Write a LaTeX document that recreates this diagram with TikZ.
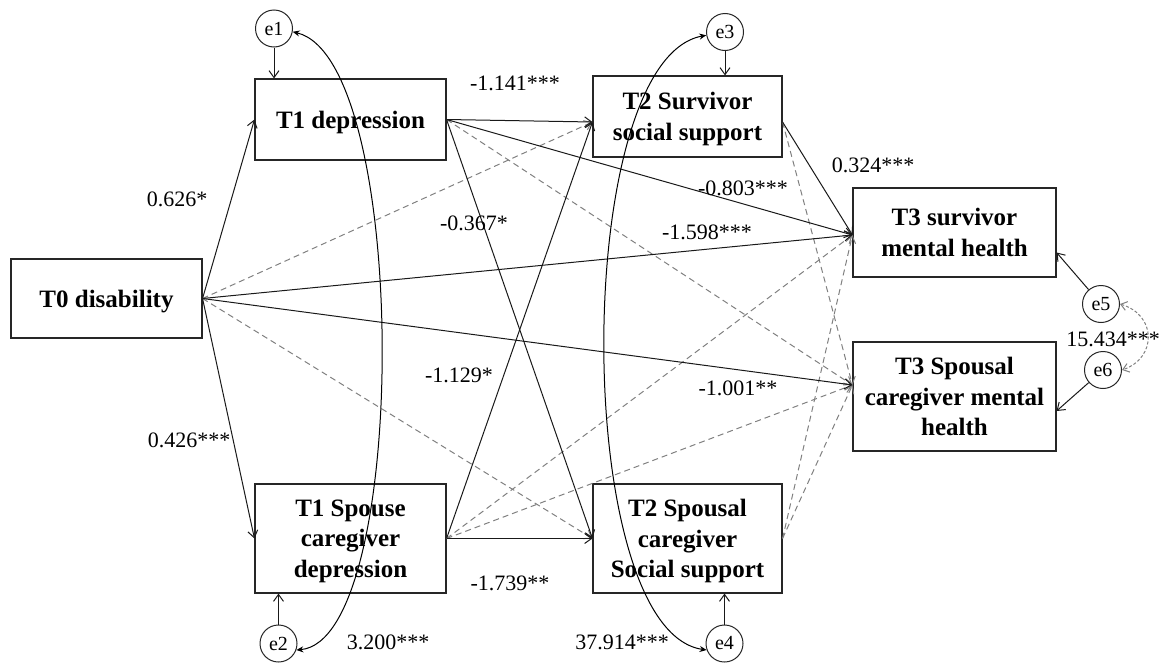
\documentclass[tikz,border=0pt]{standalone}
\usepackage{fontspec}
\setmainfont{Liberation Serif}
\usetikzlibrary{arrows.meta}
\begin{document}
\begin{tikzpicture}[x=1pt,y=-1pt,
  box/.style={draw=black!85,line width=1.1pt,inner sep=0pt,align=center,
    font=\fontsize{25}{30.5}\selectfont\bfseries,text depth=0pt},
  err/.style={circle,draw=black!85,fill=white,line width=1pt,inner sep=0pt,
    minimum size=37pt,font=\fontsize{20}{22}\selectfont},
  lab/.style={inner sep=0pt,font=\fontsize{22}{24}\selectfont},
  sig/.style={draw=black!90,line width=1pt,-{Straight Barb[length=7pt,width=10pt]}},
  nsig/.style={draw=black!50,line width=1pt,dash pattern=on 6pt off 4pt,
    -{Straight Barb[length=7pt,width=10pt]}},
  cov/.style={draw=black,line width=1pt,
    {Stealth[length=7pt,width=6pt]}-{Stealth[length=7pt,width=6pt]}},
  ncov/.style={draw=black!50,line width=1pt,dash pattern=on 3pt off 2pt,
    {Straight Barb[length=6pt,width=9pt]}-{Straight Barb[length=6pt,width=9pt]}}]
\useasboundingbox (0,0) rectangle (1159,664);

% boxes
\node[box,minimum width=191pt,minimum height=79pt]  (t0)  at (106.5,298.5) {T0 disability};
\node[box,minimum width=191pt,minimum height=81pt]  (t1a) at (350.5,119.5) {T1 depression};
\node[box,minimum width=191pt,minimum height=109pt] (t1b) at (350.5,538.5) {T1 Spouse\\caregiver\\depression};
\node[box,minimum width=189pt,minimum height=81pt]  (t2a) at (687.5,116.5) {T2 Survivor\\social support};
\node[box,minimum width=189pt,minimum height=109pt] (t2b) at (687.5,538.5) {T2 Spousal\\caregiver\\Social support};
\node[box,minimum width=203pt,minimum height=89pt]  (t3a) at (954.5,232.5) {T3 survivor\\mental health};
\node[box,minimum width=203pt,minimum height=109pt] (t3b) at (954.5,396.5) {T3 Spousal\\caregiver mental\\health};

% error terms
\node[err] (e1) at (274,28.5) {e1};
\node[err] (e2) at (278.5,643.5) {e2};
\node[err] (e3) at (725,32) {e3};
\node[err] (e4) at (724.5,643.5) {e4};
\node[err] (e5) at (1101,304) {e5};
\node[err] (e6) at (1103,370) {e6};

% anchor points
\coordinate (t2ain)  at ([yshift=-5.5pt]t2a.west);
\coordinate (t2aout) at ([yshift=-5.5pt]t2a.east);
\coordinate (t3ain)  at ([yshift=-2.5pt]t3a.west);
\coordinate (t3bin)  at ([yshift=11.5pt]t3b.west);

% non-significant paths
\draw[nsig] (t0.east) -- (t2ain);
\draw[nsig] (t0.east) -- (t2b.west);
\draw[nsig] (t1a.east) -- (t3bin);
\draw[nsig] (t1b.east) -- (t3ain);
\draw[nsig] (t1b.east) -- (t3bin);
\draw[nsig] (t2aout) -- (t3bin);
\draw[nsig] (t2b.east) -- (t3ain);
\draw[nsig] (t2b.east) -- (t3bin);

% significant paths
\draw[sig] (t0.east) -- (t1a.west);
\draw[sig] (t0.east) -- (t1b.west);
\draw[sig] (t0.east) -- (t3ain);
\draw[sig] (t0.east) -- (t3bin);
\draw[sig] (t1a.east) -- (t2ain);
\draw[sig] (t1a.east) -- (t3ain);
\draw[sig] (t1a.east) -- (t2b.west);
\draw[sig] (t1b.east) -- (t2ain);
\draw[sig] (t1b.east) -- (t2b.west);
\draw[sig] (t2aout) -- (t3ain);

% error arrows
\draw[sig] (e1.south) -- (e1.south |- t1a.north);
\draw[sig] (e2.north) -- (e2.north |- t1b.south);
\draw[sig] (e3.south) -- (e3.south |- t2a.north);
\draw[sig] (e4.north) -- (e4.north |- t2b.south);
\draw[sig] (e5) -- ([yshift=-20pt]t3a.east);
\draw[sig] (e6) -- ([yshift=-14.5pt]t3b.east);

% covariances
\draw[cov] (e1.-10) .. controls (410,60) and (410,640) .. (e2.-20);
\draw[cov] (e3.190) .. controls (571,60) and (571,630) .. (e4.200);
\draw[ncov] (e5.east) .. controls (1157,315) and (1157,358) .. (e6.east);

% labels
\node[lab] (l1)  at (177,199) {0.626*};
\node[lab] (l2)  at (189,440) {0.426***};
\node[lab] (l3)  at (515,83)  {-1.141***};
\node[lab] (l4)  at (743,188) {-0.803***};
\node[lab] (l5)  at (873,165) {0.324***};
\node[lab] (l6)  at (474,223) {-0.367*};
\node[lab] (l7)  at (707,232) {-1.598***};
\node[lab] (l8)  at (459,375) {-1.129*};
\node[lab] (l9)  at (738,388) {-1.001**};
\node[lab] (l10) at (510,583) {-1.739**};
\node[lab] (l11) at (388,642) {3.200***};
\node[lab] (l12) at (622,642) {37.914***};
\node[lab] (l13) at (1113,339) {15.434***};
\end{tikzpicture}
\end{document}
